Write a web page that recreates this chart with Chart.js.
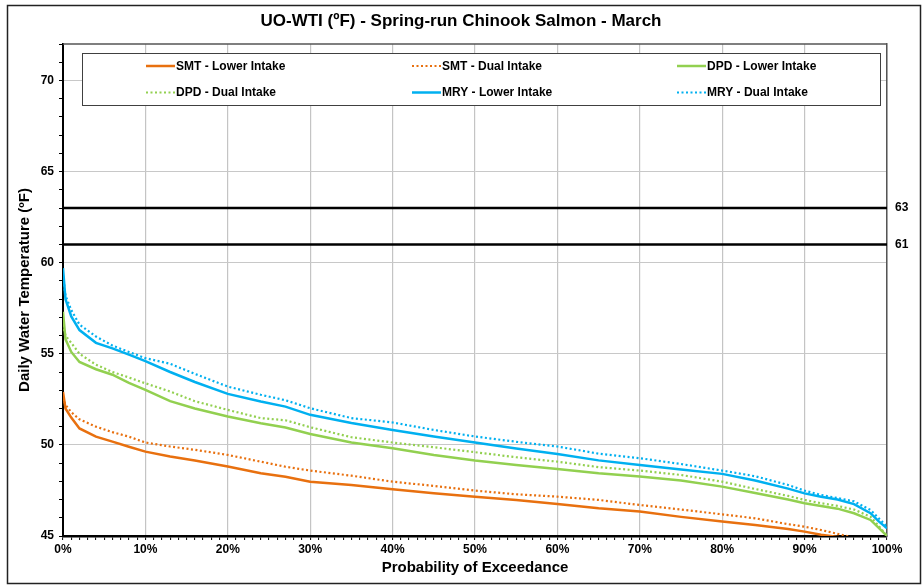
<!DOCTYPE html>
<html>
<head>
<meta charset="utf-8">
<title>UO-WTI - Spring-run Chinook Salmon - March</title>
<script src="https://cdn.jsdelivr.net/npm/chart.js@4.4.1/dist/chart.umd.min.js"></script>
<style>
  body { margin: 0; background: #fff; }
  #wrap { width: 922px; height: 585px; }
</style>
</head>
<body>
<div id="wrap"><canvas id="tempChart" width="922" height="585"></canvas></div>
<script>
// #############################################################################
// Data

// Probability of exceedance (%) shared by every curve
const exceedance = [0, 0.3, 1, 2, 4, 6, 8, 10, 13, 16, 20, 24, 27, 30, 35, 40, 45, 50,
    55, 60, 65, 70, 75, 80, 84, 88, 90, 92, 94, 96, 98, 99, 100];

// Daily water temperature (ºF) per reservoir / intake
const smtLower = [52.9, 52.0, 51.5, 50.9, 50.45, 50.18, 49.9, 49.63, 49.36, 49.14, 48.81,
    48.44, 48.25, 47.98, 47.8, 47.56, 47.34, 47.16, 46.98, 46.76, 46.52, 46.34, 46.05,
    45.79, 45.6, 45.38, 45.24, 45.07, 44.95, 44.7, 44.4, 44.2, 44.0];
const smtDual = [52.6, 52.2, 51.8, 51.4, 51.0, 50.7, 50.45, 50.13, 49.91, 49.73, 49.45,
    49.08, 48.8, 48.59, 48.31, 47.98, 47.75, 47.49, 47.29, 47.16, 46.98, 46.7, 46.45,
    46.19, 45.97, 45.65, 45.51, 45.33, 45.12, 44.9, 44.6, 44.4, 44.2];
const dpdLower = [57.3, 55.8, 55.1, 54.55, 54.15, 53.85, 53.4, 53.02, 52.4, 52.0, 51.56,
    51.19, 50.95, 50.6, 50.13, 49.82, 49.45, 49.14, 48.9, 48.68, 48.44, 48.26, 48.05,
    47.71, 47.36, 47.0, 46.8, 46.65, 46.5, 46.25, 45.88, 45.45, 45.0];
const dpdDual = [56.6, 56.0, 55.6, 55.0, 54.4, 54.0, 53.7, 53.38, 52.93, 52.4, 51.92,
    51.47, 51.35, 50.97, 50.42, 50.13, 49.87, 49.6, 49.32, 49.08, 48.78, 48.59, 48.35,
    47.98, 47.58, 47.2, 46.98, 46.8, 46.65, 46.45, 46.06, 45.55, 45.0];
const mryLower = [59.7, 58.0, 57.05, 56.3, 55.6, 55.3, 54.95, 54.6, 54.0, 53.45, 52.8,
    52.38, 52.1, 51.65, 51.2, 50.82, 50.46, 50.13, 49.8, 49.5, 49.15, 48.9, 48.65,
    48.41, 48.05, 47.6, 47.34, 47.15, 47.0, 46.75, 46.25, 45.8, 45.42];
const mryDual = [59.3, 58.2, 57.4, 56.6, 55.95, 55.45, 55.1, 54.76, 54.45, 53.9, 53.2,
    52.75, 52.45, 52.01, 51.47, 51.23, 50.82, 50.46, 50.17, 49.91, 49.52, 49.27, 48.95,
    48.59, 48.28, 47.8, 47.49, 47.25, 47.08, 46.9, 46.43, 45.97, 45.51];

// Temperature thresholds drawn as horizontal lines (ºF)
const thresholds = [63, 61];

const FONT = "'Liberation Sans', Arial, Helvetica, sans-serif";
Chart.defaults.font.family = FONT;
Chart.defaults.color = "#000";

// #############################################################################
// Datasets

const series = [
    { label: "SMT - Lower Intake", values: smtLower, color: "#E8700F", dashed: false },
    { label: "SMT - Dual Intake", values: smtDual, color: "#E8700F", dashed: true },
    { label: "DPD - Lower Intake", values: dpdLower, color: "#92D050", dashed: false },
    { label: "DPD - Dual Intake", values: dpdDual, color: "#92D050", dashed: true },
    { label: "MRY - Lower Intake", values: mryLower, color: "#00B0F0", dashed: false },
    { label: "MRY - Dual Intake", values: mryDual, color: "#00B0F0", dashed: true },
];

const datasets = series.map((s) => ({
    label: s.label,
    data: exceedance.map((p, i) => ({ x: p, y: s.values[i] })),
    borderColor: s.color,
    borderWidth: s.dashed ? 2.2 : 2.5,
    borderDash: s.dashed ? [2, 2.5] : [],
    pointRadius: 0,
    fill: false,
    clip: 0,
}));

thresholds.forEach((t) => {
    datasets.push({
        label: t + " ºF",
        data: [{ x: 0, y: t }, { x: 100, y: t }],
        borderColor: "#000",
        borderWidth: 2.5,
        pointRadius: 0,
        fill: false,
        isThreshold: true,
    });
});

// #############################################################################
// Plugins

// White background, outer frame and the top edge of the plot area
const framePlugin = {
    id: "framePlugin",
    beforeDraw(chart) {
        const { ctx, width, height } = chart;
        ctx.save();
        ctx.fillStyle = "#fff";
        ctx.fillRect(0, 0, width, height);
        ctx.restore();
    },
    afterDraw(chart) {
        const { ctx, chartArea } = chart;
        ctx.save();
        ctx.strokeStyle = "#555";
        ctx.lineWidth = 1.5;
        ctx.beginPath();
        ctx.moveTo(chartArea.left, chartArea.top);
        ctx.lineTo(chartArea.right, chartArea.top);
        ctx.stroke();

        ctx.strokeStyle = "#222";
        ctx.lineWidth = 1.5;
        ctx.strokeRect(7.5, 5.5, 913, 578);
        ctx.restore();
    },
};

// Boxed legend sitting inside the top of the plot area, three columns
const legendBox = {
    id: "legendBox",
    afterDatasetsDraw(chart) {
        const { ctx, chartArea } = chart;
        const left = chartArea.left + 19;
        const top = chartArea.top + 9;
        const width = chartArea.right - 7 - left;
        const height = 52;
        const cols = [64, 330, 595];
        const rows = [13, 39.5];

        ctx.save();
        ctx.fillStyle = "#fff";
        ctx.fillRect(left, top, width, height);
        ctx.strokeStyle = "#404040";
        ctx.lineWidth = 1;
        ctx.strokeRect(left + 0.5, top + 0.5, width, height);

        ctx.font = "bold 12px " + FONT;
        ctx.textBaseline = "middle";
        chart.data.datasets
            .filter((d) => !d.isThreshold)
            .forEach((d, i) => {
                const x = left + cols[i % 3];
                const y = top + rows[Math.floor(i / 3)];
                ctx.beginPath();
                ctx.setLineDash(d.borderDash);
                ctx.lineWidth = d.borderWidth;
                ctx.strokeStyle = d.borderColor;
                ctx.moveTo(x, y);
                ctx.lineTo(x + 29, y);
                ctx.stroke();
                ctx.setLineDash([]);
                ctx.fillStyle = "#000";
                ctx.fillText(d.label, x + 30, y + 0.5);
            });
        ctx.restore();
    },
};

// #############################################################################
// Chart

const ctx = document.getElementById("tempChart").getContext("2d");
const chart = new Chart(ctx, {
    type: "line",
    data: { datasets: datasets },
    plugins: [framePlugin, legendBox],
    options: {
        responsive: false,
        animation: false,
        layout: { padding: 0 },
        plugins: {
            legend: { display: false },
            tooltip: { enabled: false },
            title: {
                display: true,
                text: "UO-WTI (ºF) - Spring-run Chinook Salmon - March",
                font: { size: 17, weight: "bold" },
                color: "#000",
                padding: { top: 11, bottom: 12.6 },
            },
        },
        scales: {
            x: {
                type: "linear",
                min: 0,
                max: 100,
                afterFit: (scale) => {
                    scale.height = 49;
                },
                ticks: {
                    stepSize: 1,
                    autoSkip: false,
                    maxRotation: 0,
                    padding: 2,
                    font: { size: 12, weight: "bold" },
                    callback: (v) => (v % 10 === 0 ? v + "%" : ""),
                },
                grid: {
                    color: (c) =>
                        c.tick && c.tick.value % 10 === 0 && c.tick.value > 0
                            ? "#c4c4c4"
                            : "transparent",
                    lineWidth: 1.2,
                    tickColor: "#000",
                    tickLength: 4,
                    tickWidth: 1,
                },
                border: { color: "#000", width: 2.5 },
                title: {
                    display: true,
                    text: "Probability of Exceedance",
                    font: { size: 15, weight: "bold" },
                    padding: { top: 0, bottom: 8 },
                },
            },
            y: {
                min: 45,
                max: 72,
                afterFit: (scale) => {
                    scale.width = 63;
                },
                ticks: {
                    stepSize: 1,
                    autoSkip: false,
                    padding: 5,
                    font: { size: 12, weight: "bold" },
                    callback: (v) => (v % 5 === 0 ? v : ""),
                },
                grid: {
                    color: (c) =>
                        c.tick && c.tick.value % 5 === 0 && c.tick.value > 45
                            ? "#c8c8c8"
                            : "transparent",
                    lineWidth: 1,
                    tickColor: "#000",
                    tickLength: 4,
                    tickWidth: 1,
                },
                border: { color: "#000", width: 2 },
                title: {
                    display: true,
                    text: "Daily Water Temperature (ºF)",
                    font: { size: 15, weight: "bold" },
                    padding: { top: 16, bottom: 0 },
                },
            },
            y2: {
                position: "right",
                min: 45,
                max: 72,
                afterBuildTicks: (scale) => {
                    scale.ticks = thresholds.map((v) => ({ value: v }));
                },
                afterFit: (scale) => {
                    scale.width = 35;
                },
                ticks: {
                    padding: 8,
                    font: { size: 12, weight: "bold" },
                    callback: (v) => v,
                },
                grid: { display: false, drawTicks: false },
                border: { color: "#555", width: 1.5 },
            },
        },
    },
});
</script>
</body>
</html>
